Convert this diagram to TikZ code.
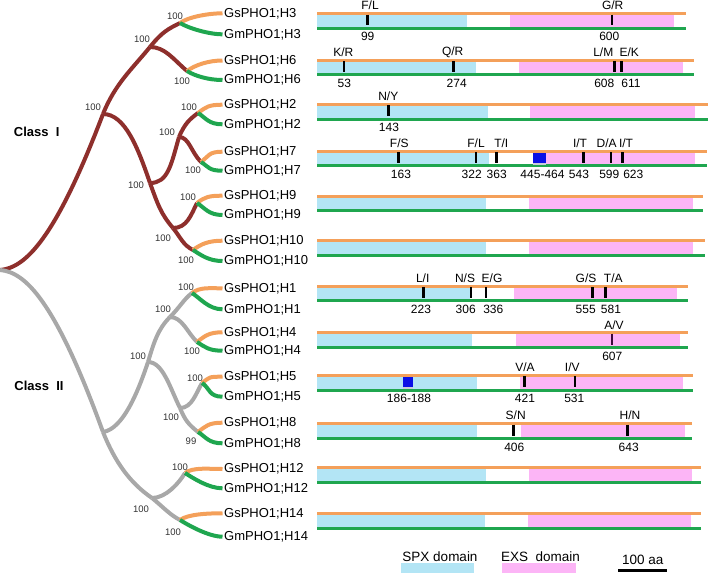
\documentclass[tikz,border=0pt]{standalone}
\usepackage{fontspec}
\setmainfont{Liberation Sans}
\definecolor{treered}{HTML}{8E2F2C}
\definecolor{treegray}{HTML}{A8A8A8}
\definecolor{orn}{HTML}{F4A05A}
\definecolor{grn}{HTML}{1FA64F}
\definecolor{spx}{HTML}{B3E5F5}
\definecolor{exs}{HTML}{FCB5F6}
\definecolor{boxblue}{HTML}{0A10E6}
\definecolor{boxgray}{HTML}{C8CCD8}
\definecolor{avmark}{HTML}{3A0A3A}
\newcommand\generow[6]{%
  \fill[spx] (317,#2+1.5) rectangle (#4,#2+13.2);
  \fill[exs] (#5,#2+1.5) rectangle (#6,#2+13.2);
  \draw[orn,line width=3pt] (317,#2) -- (#3,#2);
  \draw[grn,line width=3pt] (317,#2+14.7) -- (#3,#2+14.7);
  \coordinate (row#1) at (317,#2);
}
% #1 id, #2 yo, #3 marker x, #4 label x, #5 label, #6 num x, #7 num
\newcommand\mutmark[7]{%
  \draw[line width=2.8pt] (#3,#2+1) -- (#3,#2+11.8);
  \node[mutl] (#1l) at (#4,#2-8) {#5};
  \node[mutl] (#1n) at (#6,#2+23.2) {#7};
}
\begin{document}
\begin{tikzpicture}[x=1pt,y=-1pt,
  cls/.style={inner sep=0pt,font=\fontsize{13}{15}\selectfont\bfseries},
  trI/.style={draw=treered,line width=4pt},
  trII/.style={draw=treegray,line width=4pt},
  lfs/.style={draw=orn,line width=4pt},
  lfm/.style={draw=grn,line width=4pt},
  leaf/.style={anchor=west,inner sep=0pt,font=\fontsize{13}{15}\selectfont},
  boot/.style={inner sep=0pt,text=black!80,font=\fontsize{9.5}{11}\selectfont},
  mutl/.style={inner sep=0pt,font=\fontsize{12}{14}\selectfont},
  legt/.style={inner sep=0pt,font=\fontsize{13.5}{15}\selectfont}]
\useasboundingbox (0,0) rectangle (709,576);

% ---------------- tree coordinates ----------------
\coordinate (R) at (0,270);
\coordinate (A) at (103,114);
\coordinate (B) at (150,47);
\coordinate (n3) at (180,23);
\coordinate (n6) at (187,71);
\coordinate (D) at (150,183);
\coordinate (F) at (179,137);
\coordinate (n2) at (198,113);
\coordinate (n7) at (201,162);
\coordinate (E) at (173,228);
\coordinate (n9) at (197,203);
\coordinate (n10) at (193,250);

\coordinate (G) at (103,432);
\coordinate (H) at (148,362);
\coordinate (I) at (170,317);
\coordinate (n1) at (192,293);
\coordinate (n4) at (197,342);
\coordinate (J) at (180,408);
\coordinate (n5) at (202,383);
\coordinate (n8) at (198,432);
\coordinate (K) at (152,498);
\coordinate (n12) at (185,473);
\coordinate (n14) at (180,520);

% ---------------- class I branches ----------------
\draw[trI] (R) .. controls +(25,-2) and +(-48,126) .. (A);
\draw[trI] (A) .. controls +(12,-30) and +(-18,22) .. (B);
\draw[trI] (B) .. controls +(12,-15) and +(-12,6) .. (n3);
\draw[trI] (B) .. controls +(15,0) and +(-14,-12) .. (n6);
\draw[trI] (A) .. controls +(22,0) and +(-12,-35) .. (D);
\draw[trI] (D) .. controls +(8,22) and +(-12,-14) .. (E);
\draw[trI] (E) .. controls +(8,10) and +(-10,-5) .. (n10);
\draw[trI] (D) .. controls +(18,0) and +(-8,28) .. (F);
\draw[trI] (F) .. controls +(6,-14) and +(-8,6) .. (n2);
\draw[trI] (F) .. controls +(10,0) and +(-10,-10) .. (n7);
\draw[trI] (E) .. controls +(14,0) and +(-6,12) .. (n9);

% ---------------- class II branches ----------------
\draw[trII] (R) .. controls +(25,2) and +(-48,-132) .. (G);
\draw[trII] (G) .. controls +(20,-3) and +(-10,30) .. (H);
\draw[trII] (H) .. controls +(6,-20) and +(-12,12) .. (I);
\draw[trII] (I) .. controls +(10,-10) and +(-8,6) .. (n1);
\draw[trII] (I) .. controls +(12,0) and +(-10,-10) .. (n4);
\draw[trII] (H) .. controls +(15,0) and +(-10,-20) .. (J);
\draw[trII] (J) .. controls +(5,12) and +(-10,-8) .. (n8);
\draw[trII] (J) .. controls +(12,0) and +(-6,10) .. (n5);
\draw[trII] (G) .. controls +(12,30) and +(-22,-15) .. (K);
\draw[trII] (K) .. controls +(10,8) and +(-10,-5) .. (n14);
\draw[trII] (K) .. controls +(14,0) and +(-6,10) .. (n12);

% ---------------- leaves ----------------
\foreach \n/\ys/\ym in {3/13.3/34.3, 6/60.5/80, 2/104.7/124.3, 7/151.7/170.7,
  9/195.7/215, 10/240.7/261, 1/288.3/309.3, 4/332.3/350.7, 5/376.7/396.7,
  8/422.7/443.3, 12/469/488.3, 14/513.3/536.7}{
  \node[leaf] (gs\n) at (224,\ys) {GsPHO1;H\n};
  \node[leaf] (gm\n) at (224,\ym) {GmPHO1;H\n};
  \draw[lfs] (n\n) .. controls +(8,-6) and +(-14,0) .. ([xshift=-1.5pt]gs\n.west);
  \draw[lfm] (n\n) .. controls +(8,5) and +(-14,0) .. ([xshift=-1.5pt]gm\n.west);
}

% ---------------- bootstrap values ----------------
\node[boot] (bA) at (93,107) {100};
\node[boot] (bB) at (142,39) {100};
\node[boot] (b3) at (175,16) {100};
\node[boot] (b6) at (182,81) {100};
\node[boot] (bD) at (136,185) {100};
\node[boot] (bF) at (167,132) {100};
\node[boot] (b2) at (189,107) {100};
\node[boot] (b7) at (193,170) {100};
\node[boot] (bE) at (163,238) {100};
\node[boot] (b9) at (188,197) {100};
\node[boot] (b10) at (186,260) {100};
\node[boot] (bH) at (138,356) {100};
\node[boot] (bI) at (163,309) {100};
\node[boot] (b1) at (186,287) {100};
\node[boot] (b4) at (192,351) {100};
\node[boot] (bJ) at (171,417) {100};
\node[boot] (b5) at (195,378) {100};
\node[boot] (b8) at (191,441) {99};
\node[boot] (bK) at (141,509) {100};
\node[boot] (b12) at (180,467) {100};
\node[boot] (b14) at (173,532) {100};

% ---------------- class labels ----------------
\node[cls] (c1) at (36.7,132) {Class\ \ I};
\node[cls] (c2) at (39,386) {Class\ \ II};

% ---------------- gene bars ----------------
\generow{3}{13.5}{685.7}{466.7}{510}{674}
\generow{6}{60}{694}{475.7}{519}{682.7}
\generow{2}{104.3}{707.7}{487.7}{530}{695}
\generow{7}{151}{707}{488.7}{533}{695}
\generow{9}{196}{703}{485.7}{529}{692.7}
\generow{10}{240.7}{705}{486}{529}{693}
\generow{1}{286}{688}{470}{514}{676.7}
\generow{4}{332.7}{688}{471.7}{516}{680}
\generow{5}{375.3}{692.7}{476.7}{520}{682.7}
\generow{8}{423.7}{692}{477.3}{521}{684.7}
\generow{12}{467.3}{701.3}{485.7}{529.3}{692}
\generow{14}{513.7}{701.3}{484.7}{528.3}{691}

% blue boxes
\fill[boxgray] (533.3,153) rectangle (545.7,164.8);
\fill[boxblue] (533.3,153) rectangle (545.7,163);
\node[mutl] (del7) at (542.5,174.4) {445-464};
\fill[boxgray] (403.3,377) rectangle (412.7,388.5);
\fill[boxblue] (403.3,377) rectangle (412.7,387);
\node[mutl] (del5) at (409,398.8) {186-188};

% ---------------- mutations ----------------
\mutmark{h3a}{13.5}{367.3}{370}{F/L}{367.7}{99}
\mutmark{h3b}{13.5}{612}{612.7}{G/R}{609.3}{600}
\mutmark{h6a}{60}{344}{343.3}{K/R}{344.3}{53}
\mutmark{h6b}{60}{453.3}{452.7}{Q/R}{456.7}{274}
\mutmark{h6c}{60}{614.3}{603.3}{L/M}{604.3}{608}
\mutmark{h6d}{60}{621.7}{629.3}{E/K}{631}{611}
\mutmark{h2a}{104.3}{388.3}{388.3}{N/Y}{389}{143}
\mutmark{h7a}{151}{398.7}{399.3}{F/S}{401}{163}
\mutmark{h7b}{151}{476}{476}{F/L}{471.7}{322}
\mutmark{h7c}{151}{496.7}{501.3}{T/I}{496.7}{363}
\mutmark{h7d}{151}{583.3}{580}{I/T}{579}{543}
\mutmark{h7e}{151}{611}{606.7}{D/A}{609.3}{599}
\mutmark{h7f}{151}{622.3}{626}{I/T}{633.3}{623}
\mutmark{h1a}{286}{423.3}{422.7}{L/I}{421}{223}
\mutmark{h1b}{286}{471}{465}{N/S}{465.7}{306}
\mutmark{h1c}{286}{486}{492}{E/G}{493.3}{336}
\mutmark{h1d}{286}{592.7}{586}{G/S}{585.7}{555}
\mutmark{h1e}{286}{605.7}{613.3}{T/A}{611}{581}
\draw[avmark,line width=2.8pt] (612,333.7) -- (612,344.5);
\node[mutl] (h4al) at (614,325.5) {A/V};
\node[mutl] (h4an) at (612.3,355.9) {607};
\mutmark{h5a}{375.3}{524.7}{525}{V/A}{525}{421}
\mutmark{h5b}{375.3}{575}{572.3}{I/V}{574.3}{531}
\mutmark{h8a}{423.7}{513.3}{515.7}{S/N}{514.3}{406}
\mutmark{h8b}{423.7}{627.7}{630}{H/N}{628.7}{643}

% ---------------- legend ----------------
\node[legt] (lspx) at (440,557) {SPX domain};
\fill[spx] (401,563.3) rectangle (474.3,573.3);
\node[legt] (lexs) at (540.5,557) {EXS\ \ domain};
\fill[exs] (502.3,563.3) rectangle (575.7,573.3);
\node[legt] (lsc) at (642.8,559.5) {100 aa};
\coordinate (sc1) at (618.3,570.7);
\coordinate (sc2) at (667.3,570.7);
\draw[line width=3pt] (sc1) -- (sc2);
\end{tikzpicture}
\end{document}
